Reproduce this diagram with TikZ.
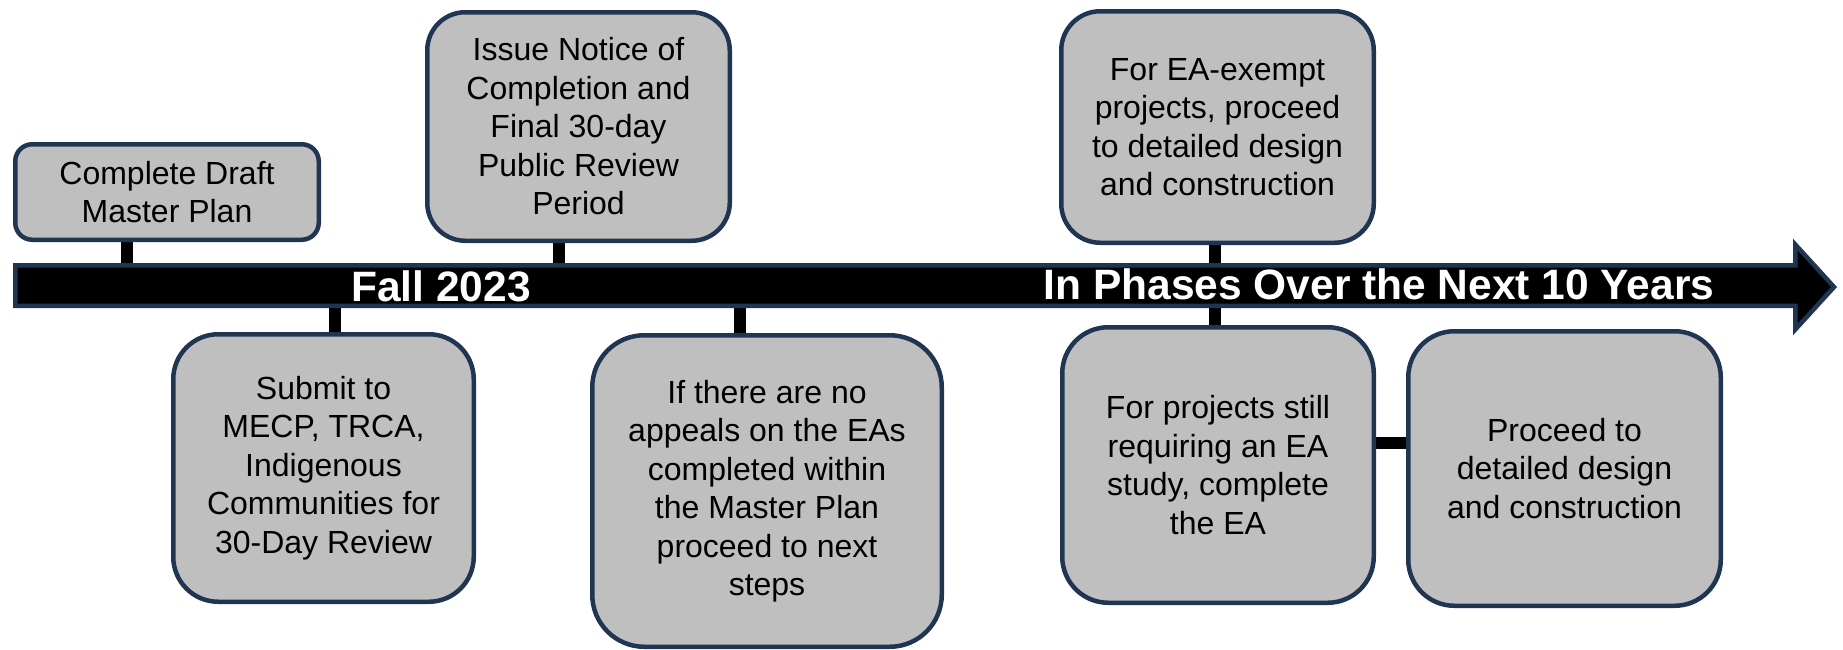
\documentclass[tikz,border=0pt]{standalone}
\usepackage{fontspec}
\setmainfont{Liberation Sans}
\usetikzlibrary{backgrounds}
\definecolor{edge}{HTML}{1F3552}
\definecolor{boxfill}{HTML}{BFBFBF}
\begin{document}
\begin{tikzpicture}[x=1pt,y=-1pt,
  box/.style={draw=edge, line width=4.5pt, fill=boxfill, align=center, inner sep=0pt,
    font=\fontsize{32}{38.5}\selectfont},
  stub/.style={draw=black, line width=12pt},
  tltext/.style={text=white, inner sep=0pt, anchor=base,
    font=\fontsize{42.5}{50}\selectfont\bfseries}]
\useasboundingbox (0,0) rectangle (1843,649);

% boxes
\node[box, minimum width=303.5pt, minimum height=95.5pt, rounded corners=17pt] (b1) at (167,192)
  {Complete Draft\\Master Plan};
\node[box, minimum width=300.5pt, minimum height=267.5pt, rounded corners=45pt] (b2) at (323.5,468)
  {Submit to\\MECP, TRCA,\\Indigenous\\Communities for\\30-Day Review};
\node[box, minimum width=302.5pt, minimum height=228.5pt, rounded corners=38pt] (b3) at (578.5,126.5)
  {Issue Notice of\\Completion and\\Final 30-day\\Public Review\\Period};
\node[box, minimum width=349.5pt, minimum height=311.5pt, rounded corners=52pt] (b4) at (767,491)
  {If there are no\\appeals on the EAs\\completed within\\the Master Plan\\proceed to next\\steps};
\node[box, minimum width=312.5pt, minimum height=231.5pt, rounded corners=39pt] (b5) at (1217.5,127)
  {For EA-exempt\\projects, proceed\\to detailed design\\and construction};
\node[box, minimum width=311.5pt, minimum height=275.5pt, rounded corners=46pt] (b6) at (1218,465)
  {For projects still\\requiring an EA\\study, complete\\the EA};
\node[box, minimum width=312.5pt, minimum height=274.5pt, rounded corners=46pt] (b7) at (1564.5,468.5)
  {Proceed to\\detailed design\\and construction};

% attachment points on the timeline
\coordinate (s1) at (127,270);
\coordinate (s2) at (335,300);
\coordinate (s3) at (559,270);
\coordinate (s4) at (740,300);
\coordinate (s5) at (1215,270);
\coordinate (s6) at (1215,300);
\coordinate (s7) at (1391,443);

% stubs (behind boxes and timeline)
\begin{scope}[on background layer]
\draw[stub] (b1.center -| s1) -- (s1);
\draw[stub] (b2.center -| s2) -- (s2);
\draw[stub] (b3.center -| s3) -- (s3);
\draw[stub] (b4.center -| s4) -- (s4);
\draw[stub] (b5.center -| s5) -- (s5);
\draw[stub] (b6.center -| s6) -- (s6);
\draw[stub] (b6.center |- s7) -- (b7.center |- s7);
\end{scope}

% timeline arrow
\draw[draw=edge, fill=black, line width=4.5pt, line join=miter]
  (15.25,265.25) -- (1795.25,265.25) -- (1795.25,244.5) -- (1834,287)
  -- (1795.25,329.5) -- (1795.25,305.75) -- (15.25,305.75) -- cycle;

\node[tltext] (t1) at (441,301.5) {Fall 2023};
\node[tltext] (t2) at (1379,299) {In Phases Over the Next 10 Years};
\end{tikzpicture}
\end{document}
